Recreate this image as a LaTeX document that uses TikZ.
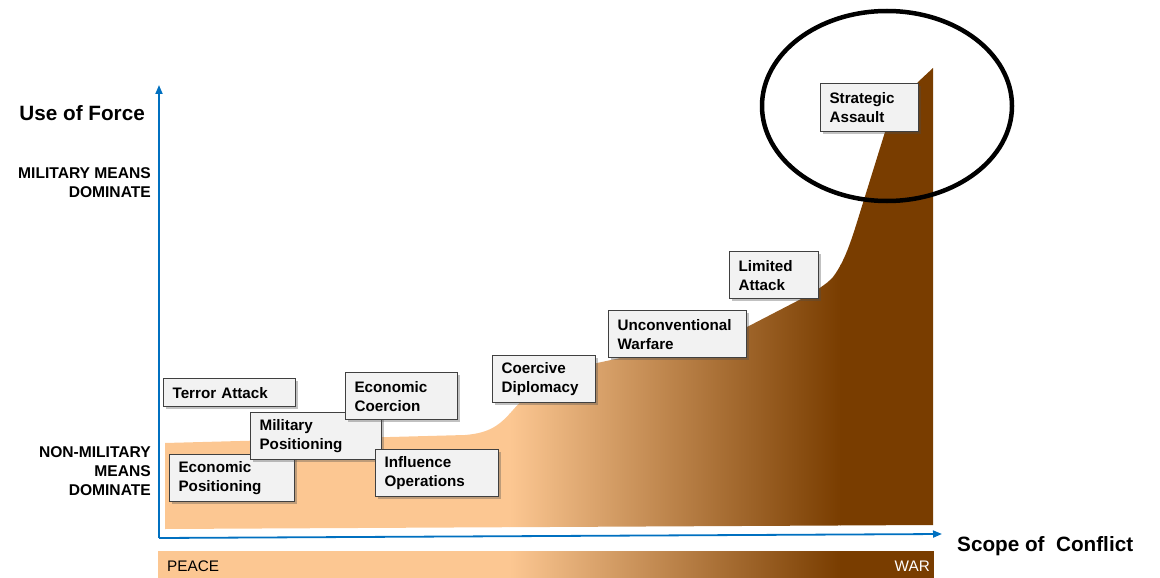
\documentclass[tikz,border=0pt]{standalone}
\usepackage{fontspec}
\setmainfont{Liberation Sans}
\usetikzlibrary{arrows.meta,shadows,shapes.geometric}
\definecolor{peach}{RGB}{252,199,146}
\definecolor{warbrown}{RGB}{121,61,0}
\definecolor{axisblue}{RGB}{0,112,192}
\definecolor{boxfill}{RGB}{242,242,242}
\definecolor{boxedge}{RGB}{64,64,64}
\tikzset{
  lbl/.style={draw=boxedge, fill=boxfill, line width=1.2pt,
    font=\bfseries\fontsize{15.2}{19}\selectfont, align=left, anchor=north west,
    inner xsep=9pt, inner ysep=0pt,
    drop shadow={shadow xshift=2.5pt, shadow yshift=-2.5pt, opacity=0.35, fill=black!70}},
  axis/.style={draw=axisblue, line width=1.8pt, -{Triangle[length=9pt,width=7pt]}},
  sidelbl/.style={font=\bfseries\fontsize{15.6}{19}\selectfont, align=right, anchor=east, inner sep=0pt},
  titlelbl/.style={font=\bfseries\fontsize{20.7}{24}\selectfont, inner sep=0pt},
  barlbl/.style={font=\fontsize{15.3}{17}\selectfont, inner sep=0pt},
}
\begin{document}
\begin{tikzpicture}[x=1pt,y=-1pt]
\useasboundingbox (0,0) rectangle (1160,578);
% area
\begin{scope}
  \clip (165,529) -- (165,443) -- (465,435)
    .. controls (490,433) and (500,425) .. (513,410)
    .. controls (530,390) and (560,371) .. (597,363)
    -- (700,341) -- (747,327) -- (803,298)
    .. controls (815,291) and (826,285) .. (833,277)
    .. controls (846,260) and (853,235) .. (862,206)
    -- (885,132) -- (918,82) -- (933,68) -- (933,525) -- cycle;
  \fill[peach] (160,50) rectangle (510,540);
  \shade[left color=peach, right color=warbrown] (509.5,50) rectangle (840.5,540);
  \fill[warbrown] (840,50) rectangle (940,540);
\end{scope}
% bottom bar
\fill[peach] (158,551) rectangle (510,578);
\shade[left color=peach, right color=warbrown] (509.5,551) rectangle (840.5,578);
\fill[warbrown] (840,551) rectangle (934,578);
\node[barlbl, anchor=west] (peace) at (167,566) {PEACE};
\node[barlbl, anchor=east, text=white] (war) at (930,566) {WAR};
% axes
\coordinate (origin) at (159,538);
\coordinate (ytip) at (159,85);
\coordinate (xtip) at (942,534);
\draw[axis] (origin) -- (ytip);
\draw[axis] (origin) -- (xtip);
% axis labels
\node[titlelbl, anchor=east] (use) at (145,113) {Use of Force};
\node[sidelbl] (mil) at (151,183) {MILITARY MEANS\\DOMINATE};
\node[sidelbl] (nonmil) at (151,471) {NON-MILITARY\\MEANS\\DOMINATE};
\node[titlelbl, anchor=west] (scope) at (957,546) {Scope of\ \ Conflict};
% boxes
\node[lbl, text width=107pt, minimum height=47pt] (econpos) at (169,454) {Economic\\Positioning};
\node[lbl, text width=113pt, minimum height=47pt] (milpos) at (250,412) {Military\\Positioning};
\node[lbl, text width=94pt, minimum height=47pt] (econcoer) at (345,372) {Economic\\Coercion};
\node[lbl, text width=105pt, minimum height=47pt] (influence) at (375,449) {Influence\\Operations};
\node[lbl, text width=114pt, minimum height=28pt] (terror) at (163,378) {Terror Attack};
\node[lbl, text width=85pt, minimum height=47pt] (coercive) at (492,355) {Coercive\\Diplomacy};
\node[lbl, text width=120pt, minimum height=47pt] (unconv) at (608,310) {Unconventional\\Warfare};
\node[lbl, text width=71pt, minimum height=47pt] (limited) at (729,251) {Limited\\Attack};
\node[lbl, text width=80pt, minimum height=48pt] (strategic) at (820,83) {Strategic\\Assault};
% highlight ellipse
\node[ellipse, draw=black, line width=4.5pt, minimum width=250pt, minimum height=190pt, inner sep=0pt] (focus) at (887,106) {};
\end{tikzpicture}
\end{document}
